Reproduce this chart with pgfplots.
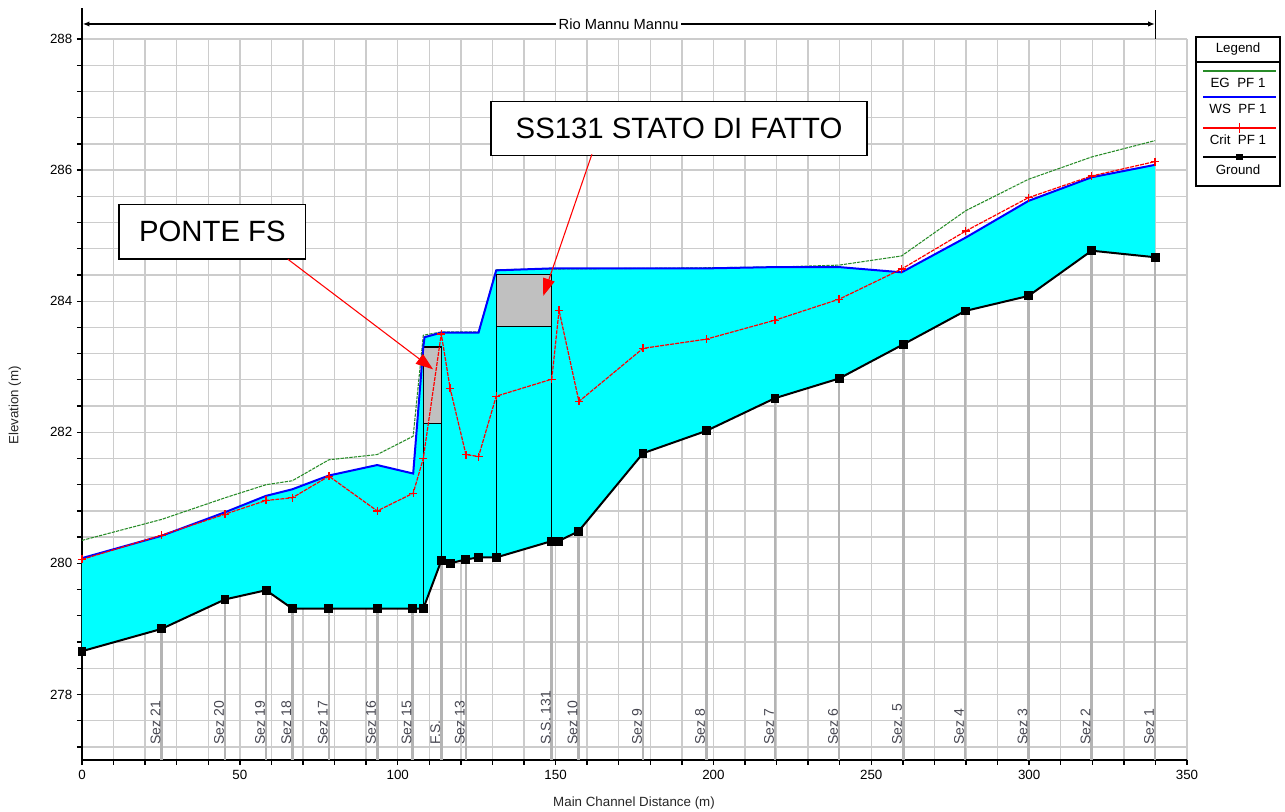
\documentclass[border=0pt]{standalone}
\usepackage{fontspec}
\setmainfont{Liberation Sans}
\usepackage{pgfplots}
\pgfplotsset{compat=1.18}
\usetikzlibrary{arrows.meta}
\definecolor{wsblue}{RGB}{0,0,255}
\definecolor{egreen}{RGB}{40,140,40}
\definecolor{critred}{RGB}{255,0,0}
\definecolor{water}{RGB}{0,255,255}
\definecolor{bridge}{RGB}{192,192,192}
\definecolor{gridc}{RGB}{204,204,204}
\definecolor{secc}{RGB}{180,180,180}
\definecolor{labc}{RGB}{70,70,80}
\begin{document}
\begin{tikzpicture}
\begin{axis}[
  at={(0pt,0pt)}, anchor=south west,
  scale only axis, width=828.75pt, height=540.75pt,
  xmin=0, xmax=350, ymin=277, ymax=288,
  axis x line*=bottom, axis y line*=left,
  axis line style={line width=1.1pt,-},
  xtick={0,50,...,350}, minor xtick={0,10,...,350},
  ytick={278,280,282,284,286,288},
  minor ytick={277.2,277.6,278.4,278.8,279.2,279.6,280.4,280.8,281.2,281.6,282.4,282.8,283.2,283.6,284.4,284.8,285.2,285.6,286.4,286.8,287.2,287.6},
  grid=both,
  major grid style={gridc,line width=1pt},
  minor grid style={gridc,line width=1pt},
  tick align=outside, major tick length=3.75pt, minor tick length=3.75pt,
  tick style={black,line width=1pt},
  minor tick style={black,line width=1pt},
  ticklabel style={font=\fontsize{10}{12}\selectfont},
  /pgf/number format/assume math mode=true,
  /pgf/number format/1000 sep={},
  clip=false,
]
% section lines
\addplot[secc, line width=2pt, unbounded coords=jump, forget plot] coordinates {
(25.2,277) (25.2,279.0) (25.2,nan)
(45.3,277) (45.3,279.45) (45.3,nan)
(58.3,277) (58.3,279.59) (58.3,nan)
(66.6,277) (66.6,279.31) (66.6,nan)
(78.2,277) (78.2,279.31) (78.2,nan)
(93.5,277) (93.5,279.31) (93.5,nan)
(104.7,277) (104.7,279.31) (104.7,nan)
(113.8,277) (113.8,280.04) (113.8,nan)
(121.6,277) (121.6,280.06) (121.6,nan)
(148.8,277) (148.8,280.34) (148.8,nan)
(157.3,277) (157.3,280.49) (157.3,nan)
(177.7,277) (177.7,281.68) (177.7,nan)
(197.7,277) (197.7,282.02) (197.7,nan)
(219.5,277) (219.5,282.52) (219.5,nan)
(239.8,277) (239.8,282.82) (239.8,nan)
(260.1,277) (260.1,283.34) (260.1,nan)
(279.7,277) (279.7,283.85) (279.7,nan)
(299.8,277) (299.8,284.08) (299.8,nan)
(319.8,277) (319.8,284.77) (319.8,nan)
(339.9,277) (339.9,284.67)
};
% water area (WS forward, ground backward)
\addplot[fill=water, draw=none, forget plot] coordinates {
(0,280.08) (25.2,280.42) (45.3,280.78) (58.3,281.03) (66.6,281.13) (78.2,281.34)
(93.5,281.5) (104.9,281.37) (108.1,283.3) (108.5,283.45) (113.8,283.52) (125.6,283.52)
(131.2,284.47) (148.8,284.5) (157.4,284.5) (177.7,284.5) (197.7,284.5) (219.5,284.52)
(239.8,284.52) (259.6,284.44) (279.9,284.97) (299.8,285.53) (319.8,285.89) (339.9,286.08)
(339.9,284.67) (319.8,284.77) (299.8,284.08) (279.7,283.85) (260.1,283.34) (239.8,282.82)
(219.5,282.52) (197.7,282.02) (177.7,281.68) (157.3,280.49) (151.0,280.34) (148.8,280.34)
(131.2,280.09) (125.6,280.09) (121.6,280.06) (116.6,280.0) (113.8,280.04) (108.1,279.31)
(104.7,279.31) (93.5,279.31) (78.2,279.31) (66.6,279.31) (58.3,279.59) (45.3,279.45)
(25.2,279.0) (0,278.66)
};
% bridges
\addplot[fill=bridge, draw=black, line width=1pt, forget plot] coordinates {
(108.1,282.13) (113.8,282.13) (113.8,283.3) (108.1,283.3) (108.1,282.13)};
\addplot[fill=bridge, draw=black, line width=1pt, forget plot] coordinates {
(131.2,283.61) (148.8,283.61) (148.8,284.41) (131.2,284.41) (131.2,283.61)};
\addplot[black, line width=1pt, unbounded coords=jump, forget plot] coordinates {
(108.1,279.31) (108.1,283.3) (108.1,nan)
(113.8,280.04) (113.8,283.3) (113.8,nan)
(131.2,280.09) (131.2,284.41) (131.2,nan)
(148.8,280.34) (148.8,284.41)};
% EG
\addplot[egreen, line width=0.8pt, dash pattern=on 2.5pt off 0.8pt] coordinates {
(0,280.35) (25.2,280.67) (45.3,281.0) (58.3,281.2) (66.6,281.26) (78.2,281.58)
(93.5,281.66) (104.9,281.94) (108.1,283.48) (113.8,283.53) (125.6,283.53)
(131.2,284.48) (148.8,284.49) (177.7,284.5) (219.5,284.52) (239.8,284.55)
(259.6,284.69) (279.9,285.38) (299.8,285.86) (319.8,286.2) (339.9,286.45)};
% WS
\addplot[wsblue, line width=1.5pt] coordinates {
(0,280.08) (25.2,280.42) (45.3,280.78) (58.3,281.03) (66.6,281.13) (78.2,281.34)
(93.5,281.5) (104.9,281.37) (108.1,283.3) (108.5,283.45) (113.8,283.52) (125.6,283.52)
(131.2,284.47) (148.8,284.5) (157.4,284.5) (177.7,284.5) (197.7,284.5) (219.5,284.52)
(239.8,284.52) (259.6,284.44) (279.9,284.97) (299.8,285.53) (319.8,285.89) (339.9,286.08)};
% Crit
\addplot[critred, line width=0.9pt, dash pattern=on 3pt off 0.8pt, mark=+, mark size=3pt, mark options={solid, line width=1pt}] coordinates {
(0,280.06) (25.2,280.43) (45.3,280.75) (58.3,280.96) (66.6,281.0) (78.2,281.33)
(93.5,280.8) (104.9,281.07) (108.1,281.6) (113.8,283.5) (116.6,282.67) (121.6,281.66)
(125.6,281.63) (131.2,282.55) (148.8,282.81) (151.1,283.86) (157.4,282.47) (177.7,283.28)
(197.7,283.42) (219.5,283.71) (239.8,284.03) (259.6,284.49) (279.9,285.07) (299.8,285.58)
(319.8,285.91) (339.9,286.13)};
% Ground
\addplot[black, line width=1.5pt, mark=square*, mark size=2.6pt] coordinates {
(0,278.66) (25.2,279.0) (45.3,279.45) (58.3,279.59) (66.6,279.31) (78.2,279.31)
(93.5,279.31) (104.7,279.31) (108.1,279.31) (113.8,280.04) (116.6,280.0) (121.6,280.06)
(125.6,280.09) (131.2,280.09) (148.8,280.34) (151.0,280.34) (157.3,280.49) (177.7,281.68)
(197.7,282.02) (219.5,282.52) (239.8,282.82) (260.1,283.34) (279.7,283.85) (299.8,284.08)
(319.8,284.77) (339.9,284.67)};
% section labels
\begin{scope}[every node/.style={rotate=90, anchor=south west, inner sep=0.6pt, font=\fontsize{10.5}{12}\selectfont, text=labc}]
\node at (axis cs:25.2,277.22) {Sez 21};
\node at (axis cs:45.3,277.22) {Sez 20};
\node at (axis cs:58.3,277.22) {Sez 19};
\node at (axis cs:66.6,277.22) {Sez 18};
\node at (axis cs:78.2,277.22) {Sez 17};
\node at (axis cs:93.5,277.22) {Sez 16};
\node at (axis cs:104.7,277.22) {Sez 15};
\node at (axis cs:113.8,277.22) {F.S.};
\node at (axis cs:121.6,277.22) {Sez 13};
\node at (axis cs:148.8,277.22) {S.S. 131};
\node at (axis cs:157.3,277.22) {Sez 10};
\node at (axis cs:177.7,277.22) {Sez 9};
\node at (axis cs:197.7,277.22) {Sez 8};
\node at (axis cs:219.5,277.22) {Sez 7};
\node at (axis cs:239.8,277.22) {Sez 6};
\node at (axis cs:260.1,277.22) {Sez. 5};
\node at (axis cs:279.7,277.22) {Sez 4};
\node at (axis cs:299.8,277.22) {Sez 3};
\node at (axis cs:319.8,277.22) {Sez 2};
\node at (axis cs:339.9,277.22) {Sez 1};
\end{scope}
% annotations
\node[draw=black, line width=0.9pt, fill=white, font=\fontsize{22}{26}\selectfont, minimum width=140pt, minimum height=41pt, inner sep=0pt] at (axis cs:41.3,285.06) {PONTE FS};
\node[draw=black, line width=0.9pt, fill=white, font=\fontsize{22}{26}\selectfont, minimum width=282pt, minimum height=40.5pt, inner sep=0pt] at (axis cs:189.1,286.64) {SS131 STATO DI FATTO};
\draw[critred, line width=0.8pt, -{Triangle[length=13pt,width=9pt]}] (axis cs:65.2,284.64) -- (axis cs:111.2,282.96);
\draw[critred, line width=0.8pt, -{Triangle[length=13pt,width=9pt]}] (axis cs:161.5,286.24) -- (axis cs:146.1,284.08);
\end{axis}
% top title line and spine extension
\draw[line width=1.1pt] (0pt,540.75pt) -- (0pt,564pt);
\draw[line width=0.9pt, {Latex[length=5pt,width=4pt]}-{Latex[length=5pt,width=4pt]}] (0.6pt,552pt) -- (804.6pt,552pt);
\draw[line width=0.9pt] (805pt,540.75pt) -- (805pt,562.5pt);
\node[fill=white, inner sep=2pt, font=\fontsize{11}{13}\selectfont] at (402.5pt,552pt) {Rio Mannu Mannu};
% axis labels
\node[font=\fontsize{10}{12}\selectfont, text=black!85] at (414pt,-32.25pt) {Main Channel Distance (m)};
\node[rotate=90, font=\fontsize{10}{12}\selectfont, text=black!85] at (-50.25pt,266pt) {Elevation (m)};
% legend
\begin{scope}[every node/.style={font=\fontsize{10}{12}\selectfont, inner sep=0pt}]
\draw[line width=1pt] (835.5pt,430.5pt) rectangle (898.5pt,542.25pt);
\draw[line width=1pt] (835.5pt,523.5pt) -- (898.5pt,523.5pt);
\node at (867pt,533pt) {Legend};
\draw[egreen, line width=1.3pt] (840.75pt,516.75pt) -- (895.5pt,516.75pt);
\node at (867pt,507.5pt) {EG\ \ PF 1};
\draw[wsblue, line width=1.3pt] (840.75pt,497.25pt) -- (895.5pt,497.25pt);
\node at (867pt,488pt) {WS\ \ PF 1};
\draw[critred, line width=1.3pt] (840.75pt,474pt) -- (895.5pt,474pt);
\draw[critred, line width=1pt] (868pt,470.5pt) -- (868pt,477.5pt);
\node at (867pt,465pt) {Crit\ \ PF 1};
\draw[black, line width=1.3pt] (840.75pt,452.25pt) -- (895.5pt,452.25pt);
\fill[black] (865.5pt,449.75pt) rectangle (870.5pt,454.75pt);
\node at (867pt,442.5pt) {Ground};
\end{scope}
\pgfresetboundingbox
\path (-61.5pt,-39pt) rectangle (902.25pt,570pt);
\end{tikzpicture}
\end{document}
